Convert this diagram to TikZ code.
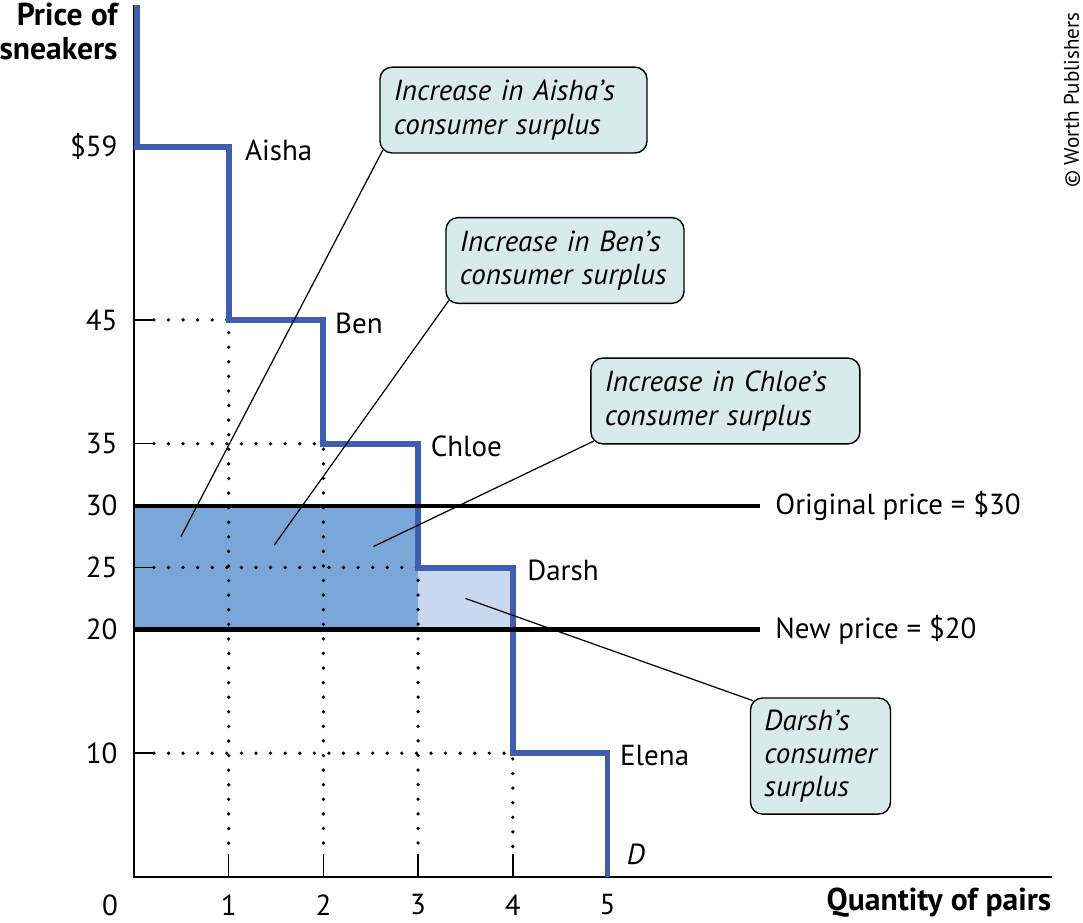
\documentclass[tikz,border=0pt]{standalone}
\usepackage{fontspec}
\setmainfont{PT Sans}
\definecolor{demandblue}{HTML}{3F5EAE}
\definecolor{areablue}{HTML}{7BA7D8}
\definecolor{arealight}{HTML}{C9D7EF}
\definecolor{calloutfill}{HTML}{D9EAEA}

\begin{document}
\begin{tikzpicture}[x=1.894cm,y=0.2476cm,font=\fontsize{16.5}{19}\selectfont]
\tikzstyle{demand}=[draw=demandblue,line width=3.4pt]
\tikzstyle{pricebar}=[line width=2.4pt]
\tikzstyle{guide}=[line width=2.1pt,line cap=round,dash pattern=on 0pt off 8.3pt]
\tikzstyle{tag}=[inner sep=0pt]
\tikzstyle{callout}=[draw,line width=0.8pt,fill=calloutfill,rounded corners=0.24cm,align=left,inner xsep=0.28cm,inner ysep=0.26cm,font=\fontsize{16.5}{19}\selectfont\itshape]
\tikzstyle{leader}=[line width=0.7pt]
\tikzstyle{axtitle}=[inner sep=0pt,font=\fontsize{18}{19}\selectfont\bfseries]
\useasboundingbox (-1.415,-3.635) rectangle (10.021,70.84);
% surplus areas
\fill [areablue] (0,20) rectangle (3,30);
\fill [arealight] (3,20) rectangle (4,25);
% dotted guides
\draw [guide] (0.21,45) -- (1,45) -- (1,2);
\draw [guide] (0.21,35) -- (2,35) -- (2,2);
\draw [guide] (0.21,25) -- (3,25) -- (3,2);
\draw [guide] (0.21,10) -- (4,10) -- (4,2);
% ticks
\foreach \p in {10,25,35,45,59}
  \draw [line width=0.9pt] (0,\p) -- (0.2,\p);
\foreach \q in {1,...,5}
  \draw [line width=0.9pt] (\q,0) -- (\q,1.9);
% axes
\draw [line width=1pt] (0,70.4) -- (0,0) -- (9.69,0);
% demand curve
\draw [demand] (0.03,70.4) -- (0.03,59) -- (1,59) -- (1,45) -- (2,45) -- (2,35)
  -- (3,35) -- (3,25) -- (4,25) -- (4,10) -- (5,10) -- (5,0);
% prices
\draw [pricebar] (0,30) -- (6.61,30);
\draw [pricebar] (0,20) -- (6.61,20);
\node [tag,anchor=west] (origPrice) at (6.77,30) {Original price = \$30};
\node [tag,anchor=west] (newPrice) at (6.77,20) {New price = \$20};
% buyers
\node [tag,anchor=west] (aisha) at (1.17,58.7) {Aisha};
\node [tag,anchor=west] (ben) at (2.12,44.7) {Ben};
\node [tag,anchor=west] (chloe) at (3.13,34.8) {Chloe};
\node [tag,anchor=west] (darsh) at (4.15,24.8) {Darsh};
\node [tag,anchor=west] (elena) at (5.13,9.85) {Elena};
\node [tag,anchor=west,font=\fontsize{16.5}{19}\selectfont\itshape] (dLbl) at (5.2,1.8) {D};
% axis labels
\foreach \p/\t in {59/\$59,45/45,35/35,30/30,25/25,20/20,10/10}
  \node [tag,anchor=east] (y\p) at (-0.17,\p) {\t};
\node (x0) at (-0.253,-2.26) {0};
\foreach \q in {1,...,5}
  \node (x\q) at (\q,-2.26) {\q};
\node [axtitle,anchor=east,align=right] (yTitle) at (-0.17,68.3) {Price of\\sneakers};
\node [axtitle,anchor=east] (xTitle) at (9.69,-2.1) {Quantity of pairs};
\node [rotate=90,font=\fontsize{12}{14}\selectfont] (credit) at (9.905,62.76) {\textcopyright\ Worth Publishers};
% callouts
\node [callout,text width=4.78cm] (aishaBox) at (4.007,61.95) {Increase in Aisha’s\\consumer surplus};
\node [callout,text width=4.2cm] (benBox) at (4.551,49.80) {Increase in Ben’s\\consumer surplus};
\node [callout,text width=4.82cm] (chloeBox) at (6.245,38.45) {Increase in Chloe’s\\consumer surplus};
\node [callout,text width=2.24cm,inner ysep=0.23cm] (darshBox) at (7.249,9.77) {Darsh’s\\consumer\\surplus};
\coordinate (aishaPt) at (0.496,27.5);
\coordinate (benPt) at (1.48,26.8);
\coordinate (chloePt) at (2.53,26.7);
\coordinate (darshPt) at (3.5,22.5);
\draw [leader] ([shift={(0.07cm,0.07cm)}]aishaBox.south west) -- (aishaPt);
\draw [leader] ([shift={(0.07cm,0.07cm)}]benBox.south west) -- (benPt);
\draw [leader] ([shift={(0.07cm,0.07cm)}]chloeBox.south west) -- (chloePt);
\draw [leader] ([shift={(0.07cm,-0.07cm)}]darshBox.north west) -- (darshPt);
\end{tikzpicture}
\end{document}
